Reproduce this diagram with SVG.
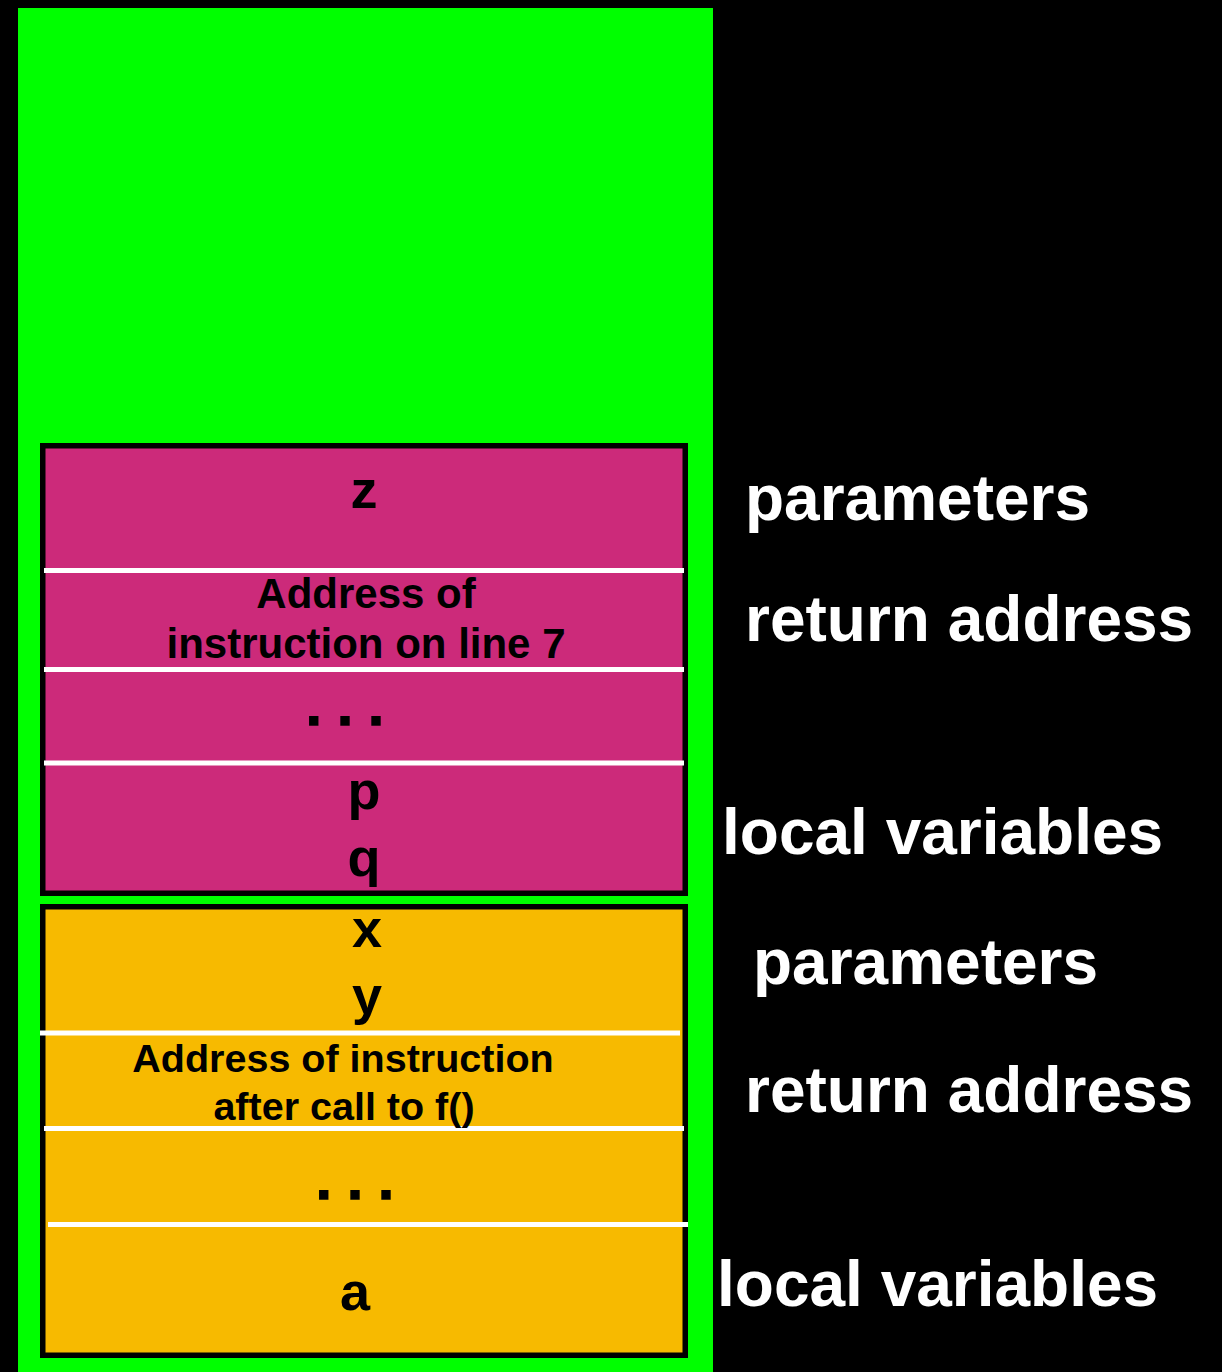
<svg xmlns="http://www.w3.org/2000/svg" width="1222" height="1372" viewBox="0 0 1222 1372">
<style>
.frame{stroke:#000;stroke-width:5.5}
.sep{stroke:#fff;stroke-width:5}
.t{font-family:"Liberation Sans",Arial,Helvetica,sans-serif;font-weight:bold;fill:#000;text-anchor:middle}
.big{font-size:54px}
.mid{font-size:42px}
.mid2{font-size:39.5px}
.dots{font-size:56px;stroke:#000;stroke-width:1.5}
.lbl{font-family:"Liberation Sans",Arial,Helvetica,sans-serif;font-weight:bold;fill:#fff;font-size:64px}
</style>
<rect x="0" y="0" width="1222" height="1372" fill="#000"/>
<g id="stack">
<rect x="18" y="8" width="695" height="1364" fill="#00ff00"/>
</g>
<g id="frame-f">
<rect class="frame" x="42.75" y="445.75" width="642.5" height="447.5" fill="#cc2a7a"/>
<line class="sep" x1="44" y1="570.5" x2="684" y2="570.5"/>
<line class="sep" x1="44" y1="669.5" x2="684" y2="669.5"/>
<line class="sep" x1="44" y1="763" x2="684" y2="763"/>
<text class="t big" x="364" y="508">z</text>
<text class="t mid" x="366" y="608">Address of</text>
<text class="t mid" x="366" y="658">instruction on line 7</text>
<text class="t dots" x="345" y="725">. . .</text>
<text class="t big" x="364" y="809">p</text>
<text class="t big" x="364" y="876">q</text>
</g>
<g id="frame-main">
<rect class="frame" x="42.75" y="906.75" width="642.5" height="448.5" fill="#f7ba00"/>
<line class="sep" x1="40" y1="1033" x2="680" y2="1033"/>
<line class="sep" x1="44" y1="1128.5" x2="684" y2="1128.5"/>
<line class="sep" x1="48" y1="1224.5" x2="688" y2="1224.5"/>
<text class="t big" x="367" y="947">x</text>
<text class="t big" x="367" y="1014">y</text>
<text class="t mid2" x="343" y="1072">Address of instruction</text>
<text class="t mid2" x="344" y="1120">after call to f()</text>
<text class="t dots" x="355" y="1199">. . .</text>
<text class="t big" x="355" y="1310">a</text>
</g>
<g id="labels">
<text class="lbl" x="745" y="520">parameters</text>
<text class="lbl" x="745" y="641">return address</text>
<text class="lbl" x="722" y="854">local variables</text>
<text class="lbl" x="753" y="984">parameters</text>
<text class="lbl" x="745" y="1112">return address</text>
<text class="lbl" x="717" y="1306">local variables</text>
</g>
<g id="connectors"></g>
</svg>
